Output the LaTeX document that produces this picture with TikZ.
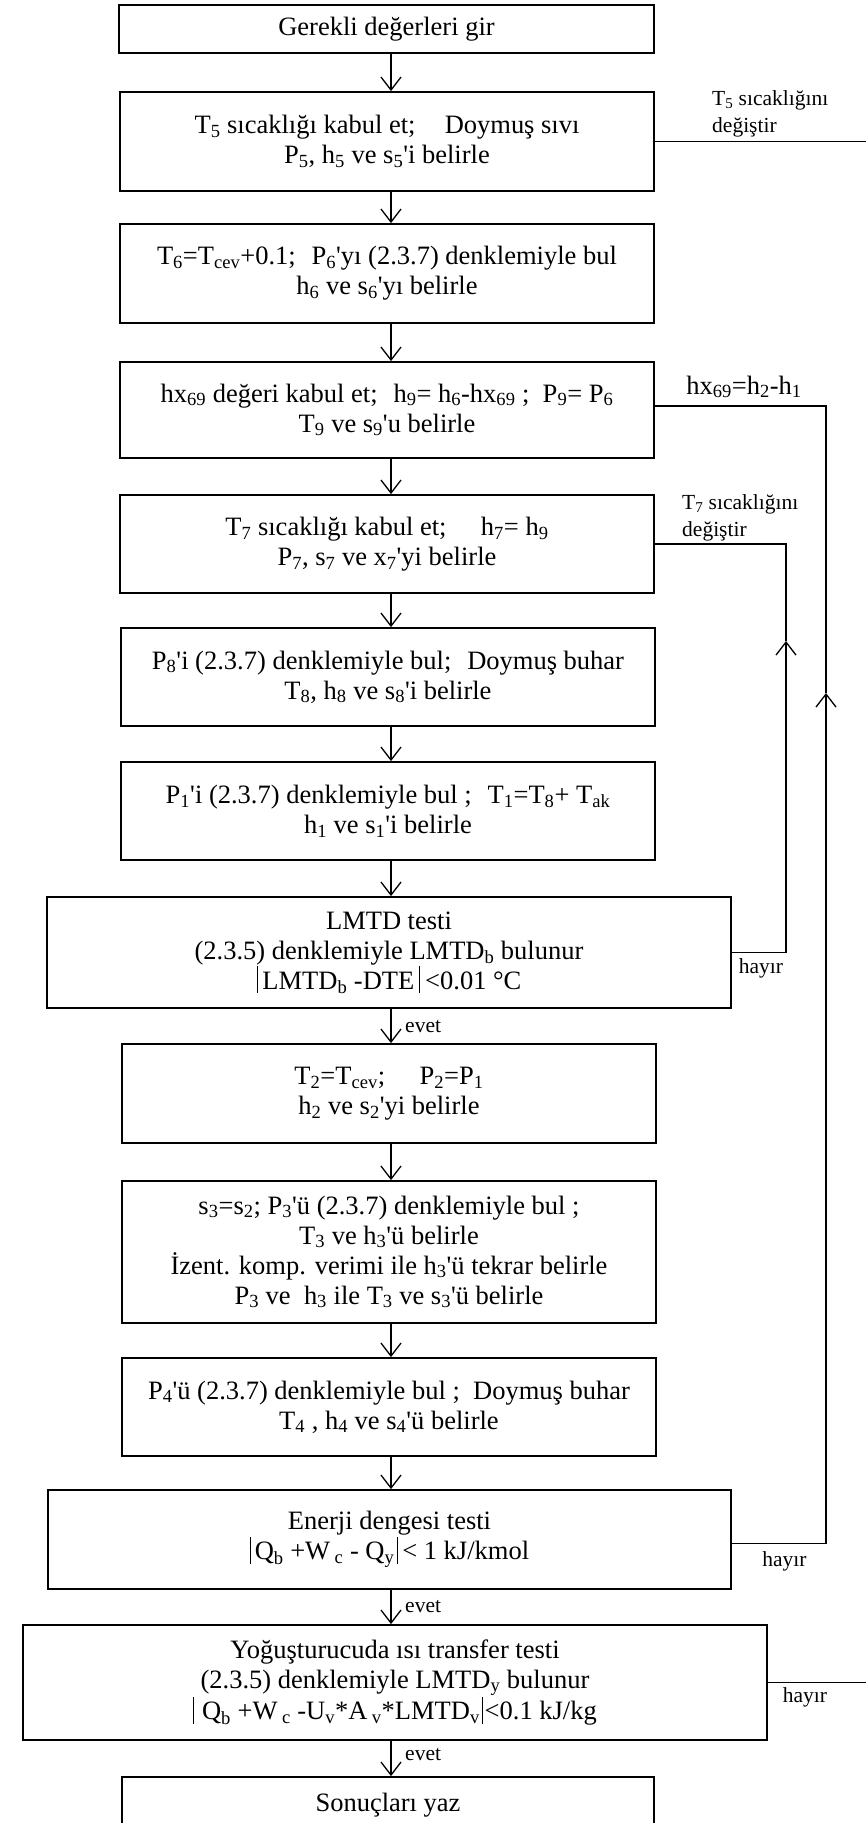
\documentclass[tikz,border=0pt]{standalone}
\usepackage{fontspec}
\setmainfont{Liberation Serif}
\usetikzlibrary{arrows.meta,calc}
\newcommand\sbs[1]{\textsubscript{#1}}
\newcommand\apo{\textquotesingle}
\newcommand\abar{\rule[-4pt]{0.9pt}{27pt}}
\begin{document}
\begin{tikzpicture}[x=1pt,y=-1pt,
  box/.style={draw, line width=1.8pt, inner sep=0pt, align=center, font=\fontsize{26.5}{30}\selectfont},
  conn/.style={line width=1.3pt},
  arr/.style={conn, -{Straight Barb[length=13pt,width=20pt,line width=1.3pt]}},
  lbl/.style={font=\fontsize{21.5}{27}\selectfont, inner sep=0pt, align=left},
  big/.style={font=\fontsize{26.5}{30}\selectfont, inner sep=0pt}]
\useasboundingbox (0,0) rectangle (865,1823);
\fill[white] (0,0) rectangle (865,1823);

\node[box, minimum width=535pt, minimum height=48pt] (b1) at (386.5,29) {Gerekli değerleri gir};
\node[box, minimum width=534pt, minimum height=99pt] (b2) at (387,141.5)
  {T\sbs{5} sıcaklığı kabul et;\hspace{1.1em}Doymuş sıvı\\P\sbs{5}, h\sbs{5} ve s\sbs{5}\apo i belirle};
\node[box, minimum width=534pt, minimum height=99pt] (b3) at (387,273.5)
  {T\sbs{6}=T\sbs{cev}+0.1;\hspace{0.6em}P\sbs{6}\apo yı (2.3.7) denklemiyle bul\\h\sbs{6} ve s\sbs{6}\apo yı belirle};
\node[box, minimum width=534pt, minimum height=96pt] (b4) at (387,410)
  {hx\sbs{69} değeri kabul et;\hspace{0.6em}h\sbs{9}= h\sbs{6}-hx\sbs{69} ;\ \ P\sbs{9}= P\sbs{6}\\T\sbs{9} ve s\sbs{9}\apo u belirle};
\node[box, minimum width=534pt, minimum height=98pt] (b5) at (387,544)
  {T\sbs{7} sıcaklığı kabul et;\hspace{1.3em}h\sbs{7}= h\sbs{9}\\P\sbs{7}, s\sbs{7} ve x\sbs{7}\apo yi belirle};
\node[box, minimum width=534pt, minimum height=98pt] (b6) at (388,677)
  {P\sbs{8}\apo i (2.3.7) denklemiyle bul;\hspace{0.6em}Doymuş buhar\\T\sbs{8}, h\sbs{8} ve s\sbs{8}\apo i belirle};
\node[box, minimum width=534pt, minimum height=98pt] (b7) at (388,811)
  {P\sbs{1}\apo i (2.3.7) denklemiyle bul ;\hspace{0.6em}T\sbs{1}=T\sbs{8}+ T\sbs{ak}\\h\sbs{1} ve s\sbs{1}\apo i belirle};
\node[box, minimum width=684pt, minimum height=111pt] (b8) at (389,952.5)
  {LMTD testi\\(2.3.5) denklemiyle LMTD\sbs{b} bulunur\\\abar\hspace{5pt}LMTD\sbs{b} -DTE\hspace{5pt}\abar\hspace{5pt}<0.01 °C};
\node[box, minimum width=534pt, minimum height=99pt] (b9) at (389,1093.5)
  {T\sbs{2}=T\sbs{cev};\hspace{1.3em}P\sbs{2}=P\sbs{1}\\h\sbs{2} ve s\sbs{2}\apo yi belirle};
\node[box, minimum width=534pt, minimum height=142pt] (b10) at (389,1252)
  {s\sbs{3}=s\sbs{2}; P\sbs{3}\apo ü (2.3.7) denklemiyle bul ;\\T\sbs{3} ve h\sbs{3}\apo ü belirle\\İzent. komp. verimi ile h\sbs{3}\apo ü tekrar belirle\\P\sbs{3} ve\ \ h\sbs{3} ile T\sbs{3} ve s\sbs{3}\apo ü belirle};
\node[box, minimum width=534pt, minimum height=98pt] (b11) at (389,1407)
  {P\sbs{4}\apo ü (2.3.7) denklemiyle bul ;\ \ Doymuş buhar\\T\sbs{4} , h\sbs{4} ve s\sbs{4}\apo ü belirle};
\node[box, minimum width=683pt, minimum height=99pt] (b12) at (389.5,1539.5)
  {Enerji dengesi testi\\\abar\hspace{4pt}Q\sbs{b} +W\,\sbs{c} - Q\sbs{y}\hspace{3pt}\abar\hspace{4pt}< 1 kJ/kmol};
\node[box, minimum width=744pt, minimum height=115pt] (b13) at (395,1682.5)
  {Yoğuşturucuda ısı transfer testi\\(2.3.5) denklemiyle LMTD\sbs{y} bulunur\\\abar\hspace{8pt}Q\sbs{b} +W\,\sbs{c} -U\sbs{v}*A\,\sbs{v}*LMTD\sbs{v}\hspace{2pt}\abar\hspace{2pt}<0.1 kJ/kg};
\node[box, minimum width=532pt, minimum height=86pt, text depth=0pt] (b14) at (388,1820)
  {\raisebox{36pt}{Sonuçları yaz}};

% main downward connectors
\coordinate (ax) at (391,0);
\foreach \a/\b in {b1/b2,b2/b3,b3/b4,b4/b5,b5/b6,b6/b7,b7/b8,b8/b9,b9/b10,b10/b11,b11/b12,b12/b13,b13/b14}
  \draw[arr] (\a.south -| ax) -- (\b.north -| ax);

% T5 loop (vertical runs off the page)
\coordinate (t5x) at (875,0);
\draw[conn] (b13.east) -- (b13.east -| t5x) |- (b2.east);

% hx69 loop
\coordinate (hxtip) at (826,693);
\draw[arr] ($(b12.east)+(0,4)$) -| (hxtip);
\draw[conn] (hxtip) |- ($(b4.east)+(0,-4)$);

% T7 loop
\coordinate (t7tip) at (786,641);
\draw[arr] (b8.east) -| (t7tip);
\draw[conn] (t7tip) |- (b5.east);

% labels
\node[lbl, anchor=west] (l1) at (712,114) {T\sbs{5} sıcaklığını\\değiştir};
\node[big] (l2) at (744,387) {hx\sbs{69}=h\sbs{2}-h\sbs{1}};
\node[lbl, anchor=west] (l3) at (682,518) {T\sbs{7} sıcaklığını\\değiştir};
\node[lbl] (h1) at (761,968) {hayır};
\node[lbl] (h2) at (784.5,1561) {hayır};
\node[lbl] (h3) at (805,1697) {hayır};
\node[lbl, anchor=west] (e1) at (405,1027) {evet};
\node[lbl, anchor=west] (e2) at (405,1607) {evet};
\node[lbl, anchor=west] (e3) at (405,1755) {evet};
\end{tikzpicture}
\end{document}
